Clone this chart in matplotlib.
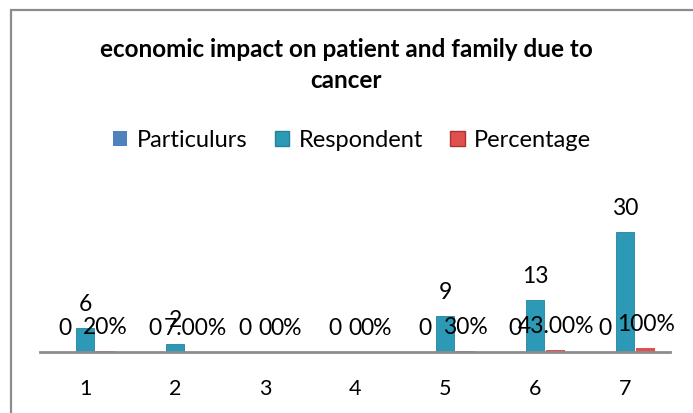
import matplotlib
matplotlib.use("Agg")
import matplotlib.pyplot as plt
from matplotlib.patches import Rectangle, Patch
import numpy as np

categories = ["1", "2", "3", "4", "5", "6", "7"]
particulurs = [0, 0, 0, 0, 0, 0, 0]
respondent = [6, 2, 0, 0, 9, 13, 30]
percentage = [0.20, 0.07, 0.0, 0.0, 0.30, 0.43, 1.00]
particulurs_labels = ["0", "0", "0", "0", "0", "0", "0"]
respondent_labels = ["6", "2", "0", "0", "9", "13", "30"]
percentage_labels = ["20%", "7.00%", "0%", "0%", "30%", "43.00%", "100%"]

plt.rcParams['font.family'] = ['Lato', 'DejaVu Sans']

W, H = 693, 414
fig = plt.figure(figsize=(W / 100, H / 100), dpi=100)
fig.patch.set_facecolor('white')

# outer frame (chart area border)
fig.patches.append(Rectangle((11 / W, -0.2), 1.2, 1.2 - 11 / H,
                             transform=fig.transFigure, fill=False,
                             edgecolor='#8c8c8c', linewidth=1.6, zorder=0))

ax = fig.add_axes([40 / W, (H - 353) / H, 630 / W, 140 / H])
ax.set_facecolor('none')

x = np.arange(len(categories))
bw = 0.21
c_part = '#4F81BD'
c_resp = '#2C9AB7'
c_perc = '#E0504E'

b1 = ax.bar(x - bw - 0.01, particulurs, bw, color=c_part, label='Particulurs')
b2 = ax.bar(x, respondent, bw, color=c_resp, edgecolor='#23829c',
            linewidth=0.6, label='Respondent')
b3 = ax.bar(x + bw + 0.02, percentage, bw, color=c_perc, label='Percentage')

for bars, labs in [(b1, particulurs_labels), (b2, respondent_labels), (b3, percentage_labels)]:
    ax.bar_label(bars, labels=labs, padding=10, fontsize=16.5, color='#000000')

ax.set_xlim(-0.5, 6.5)
ax.set_ylim(0, 35)
ax.set_xticks(x)
ax.set_xticklabels(categories, fontsize=15.5)
ax.tick_params(axis='x', length=0, pad=19)
ax.set_yticks([])
for s in ['top', 'right', 'left']:
    ax.spines[s].set_visible(False)
ax.spines['bottom'].set_color('#8c8c8c')
ax.spines['bottom'].set_linewidth(2)

fig.text(346 / W, 1 - 65 / H, "economic impact on patient and family due to\ncancer",
         ha='center', va='center', fontsize=17.5, fontweight='bold',
         linespacing=1.45)

handles = [Patch(facecolor=c_part), Patch(facecolor=c_resp, edgecolor='#23829c'),
           Patch(facecolor=c_perc, edgecolor='#a33')]
fig.legend(handles, ['Particulurs', 'Respondent', 'Percentage'],
           loc='center', bbox_to_anchor=(352 / W, 1 - 141 / H), ncol=3,
           frameon=False, fontsize=17, handlelength=0.62, handleheight=0.62,
           handletextpad=0.4, columnspacing=1.15)

fig.savefig('out.png', dpi=100)
